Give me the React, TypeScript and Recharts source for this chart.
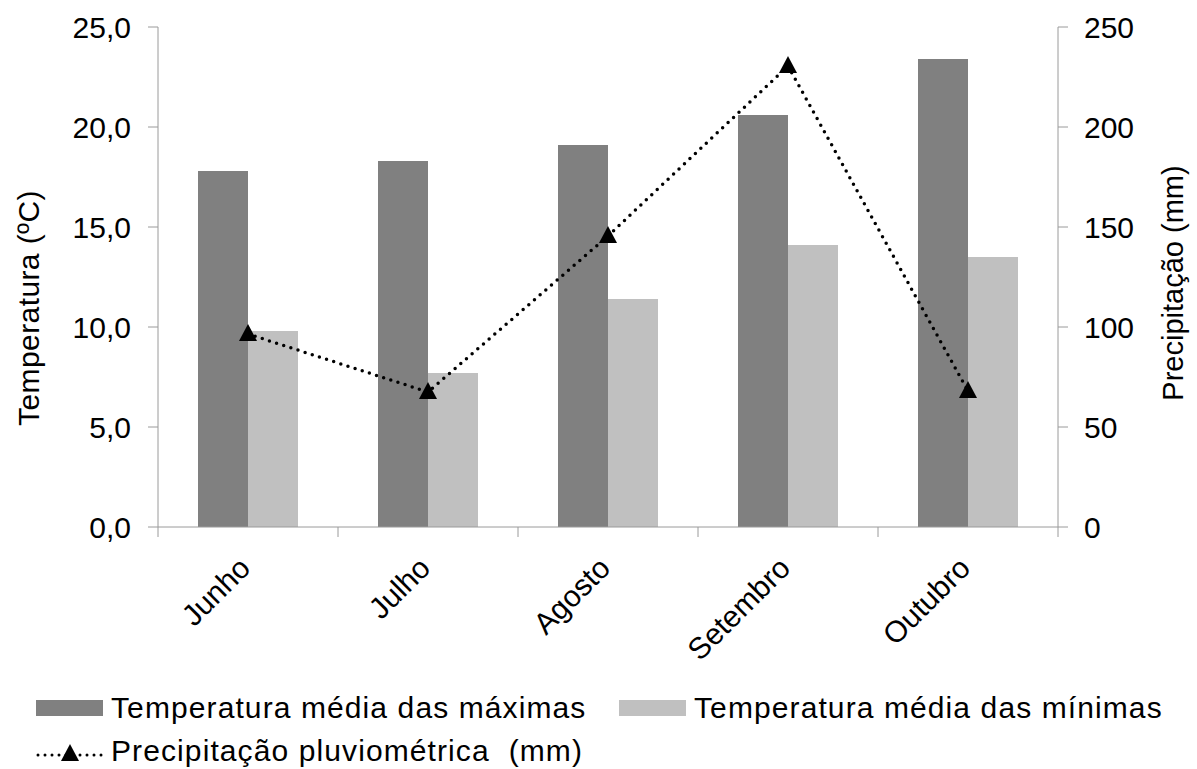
import React from 'react';
import { ComposedChart, Bar, Line, XAxis, YAxis } from 'recharts';

const months = ['Junho', 'Julho', 'Agosto', 'Setembro', 'Outubro'];
const tempMax = [17.8, 18.3, 19.1, 20.6, 23.4];
const tempMin = [9.8, 7.7, 11.4, 14.1, 13.5];
const precip = [96.5, 67.5, 145.5, 230.5, 68];
const tempTicks = [0, 5, 10, 15, 20, 25];
const precipTicks = [0, 50, 100, 150, 200, 250];

const seriesNames = {
  max: 'Temperatura média das máximas',
  min: 'Temperatura média das mínimas',
  precip: 'Precipitação pluviométrica  (mm)',
};

const data = months.map((m, i) => ({ month: m, max: tempMax[i], min: tempMin[i], precip: precip[i] }));

const W = 1197;
const H = 769;
const MARGIN = { top: 27, right: 59, left: 58, bottom: 142 };
const LEFT_AXIS_W = 100;
const RIGHT_AXIS_W = 80;
const PLOT_W = W - MARGIN.left - MARGIN.right - LEFT_AXIS_W - RIGHT_AXIS_W;
const HALF_BAND = PLOT_W / months.length / 2;

const FONT = '"Liberation Sans", Arial, Helvetica, sans-serif';
const AXIS_COLOR = '#9a9a9a';
const DARK = '#808080';
const LIGHT = '#c0c0c0';
const TICK_FS = 30;

const XTick = (props: any) => {
  const { x, y, payload, index } = props;
  const lx = x + 4;
  const ly = y + 43;
  return (
    <g>
      <line x1={x - HALF_BAND} y1={y} x2={x - HALF_BAND} y2={y + 10} stroke={AXIS_COLOR} strokeWidth={1} />
      {index === months.length - 1 && (
        <line x1={x + HALF_BAND} y1={y} x2={x + HALF_BAND} y2={y + 10} stroke={AXIS_COLOR} strokeWidth={1} />
      )}
      <text
        x={lx}
        y={ly}
        transform={`rotate(-45, ${lx}, ${ly})`}
        textAnchor="end"
        fontSize={TICK_FS}
        fontFamily={FONT}
        fill="#000"
      >
        {payload.value}
      </text>
    </g>
  );
};

const Triangle = (props: any) => {
  const { cx, cy, index } = props;
  if (cx == null || cy == null) return <g key={index} />;
  return <path key={index} d={`M${cx},${cy - 10} L${cx + 9},${cy + 7} L${cx - 9},${cy + 7} Z`} fill="#000" />;
};

const LeftLabel = (props: any) => {
  const vb = props.viewBox || {};
  const cx = vb.x - 30;
  const cy = vb.y + vb.height / 2 + 31;
  return (
    <text x={cx} y={cy} transform={`rotate(-90, ${cx}, ${cy})`} textAnchor="middle" dominantBaseline="central" fontSize={30} letterSpacing={0.4} fontFamily={FONT} fill="#000">
      Temperatura (ºC)
    </text>
  );
};

const RightLabel = (props: any) => {
  const vb = props.viewBox || {};
  const cx = vb.x + vb.width + 35;
  const cy = vb.y + vb.height / 2 + 6;
  return (
    <text x={cx} y={cy} transform={`rotate(-90, ${cx}, ${cy})`} textAnchor="middle" dominantBaseline="central" fontSize={29} fontFamily={FONT} fill="#000">
      Precipitação (mm)
    </text>
  );
};

const fmtTemp = (v: number) => v.toFixed(1).replace('.', ',');

export default function App() {
  return (
    <div style={{ position: 'absolute', left: 0, top: 0, width: W, height: H, background: '#fff' }}>
      <ComposedChart width={W} height={H} data={data} margin={MARGIN} barCategoryGap={40} barGap={0}>
        <XAxis
          dataKey="month"
          height={100}
          tick={<XTick />}
          tickLine={false}
          tickSize={0}
          tickMargin={0}
          axisLine={{ stroke: AXIS_COLOR }}
          interval={0}
        />
        <YAxis
          yAxisId="left"
          orientation="left"
          width={LEFT_AXIS_W}
          domain={[0, 25]}
          ticks={tempTicks}
          tickFormatter={fmtTemp}
          tick={{ fontSize: TICK_FS, fontFamily: FONT, fill: '#000' }}
          tickSize={10}
          tickMargin={17}
          axisLine={{ stroke: AXIS_COLOR }}
          tickLine={{ stroke: AXIS_COLOR }}
          label={<LeftLabel />}
        />
        <YAxis
          yAxisId="right"
          orientation="right"
          width={RIGHT_AXIS_W}
          domain={[0, 250]}
          ticks={precipTicks}
          tick={{ fontSize: TICK_FS, fontFamily: FONT, fill: '#000' }}
          tickSize={10}
          tickMargin={16}
          axisLine={{ stroke: AXIS_COLOR }}
          tickLine={{ stroke: AXIS_COLOR }}
          label={<RightLabel />}
        />
        <Bar yAxisId="left" dataKey="max" name={seriesNames.max} fill={DARK} isAnimationActive={false} />
        <Bar yAxisId="left" dataKey="min" name={seriesNames.min} fill={LIGHT} isAnimationActive={false} />
        <Line
          yAxisId="right"
          type="linear"
          dataKey="precip"
          name={seriesNames.precip}
          stroke="#000"
          strokeWidth={3.5}
          strokeDasharray="0 7.5"
          strokeLinecap="round"
          dot={<Triangle />}
          activeDot={false}
          isAnimationActive={false}
        />
      </ComposedChart>
      <svg width={W} height={100} style={{ position: 'absolute', left: 0, top: 680 }}>
        <rect x={36} y={20} width={67} height={16} fill={DARK} />
        <text x={111} y={38} fontSize={30} letterSpacing={1.1} fontFamily={FONT} fill="#000">
          {seriesNames.max}
        </text>
        <rect x={619} y={20} width={67} height={16} fill={LIGHT} />
        <text x={694} y={38} fontSize={30} letterSpacing={1.1} fontFamily={FONT} fill="#000">
          {seriesNames.min}
        </text>
        <line x1={38} y1={75} x2={103} y2={75} stroke="#000" strokeWidth={3} strokeDasharray="0 7" strokeLinecap="round" />
        <path d={`M70,${64} L79,${81} L61,${81} Z`} fill="#000" />
        <text x={111} y={81} fontSize={30} letterSpacing={1.1} fontFamily={FONT} fill="#000" style={{ whiteSpace: 'pre' }}>
          {seriesNames.precip}
        </text>
      </svg>
    </div>
  );
}
